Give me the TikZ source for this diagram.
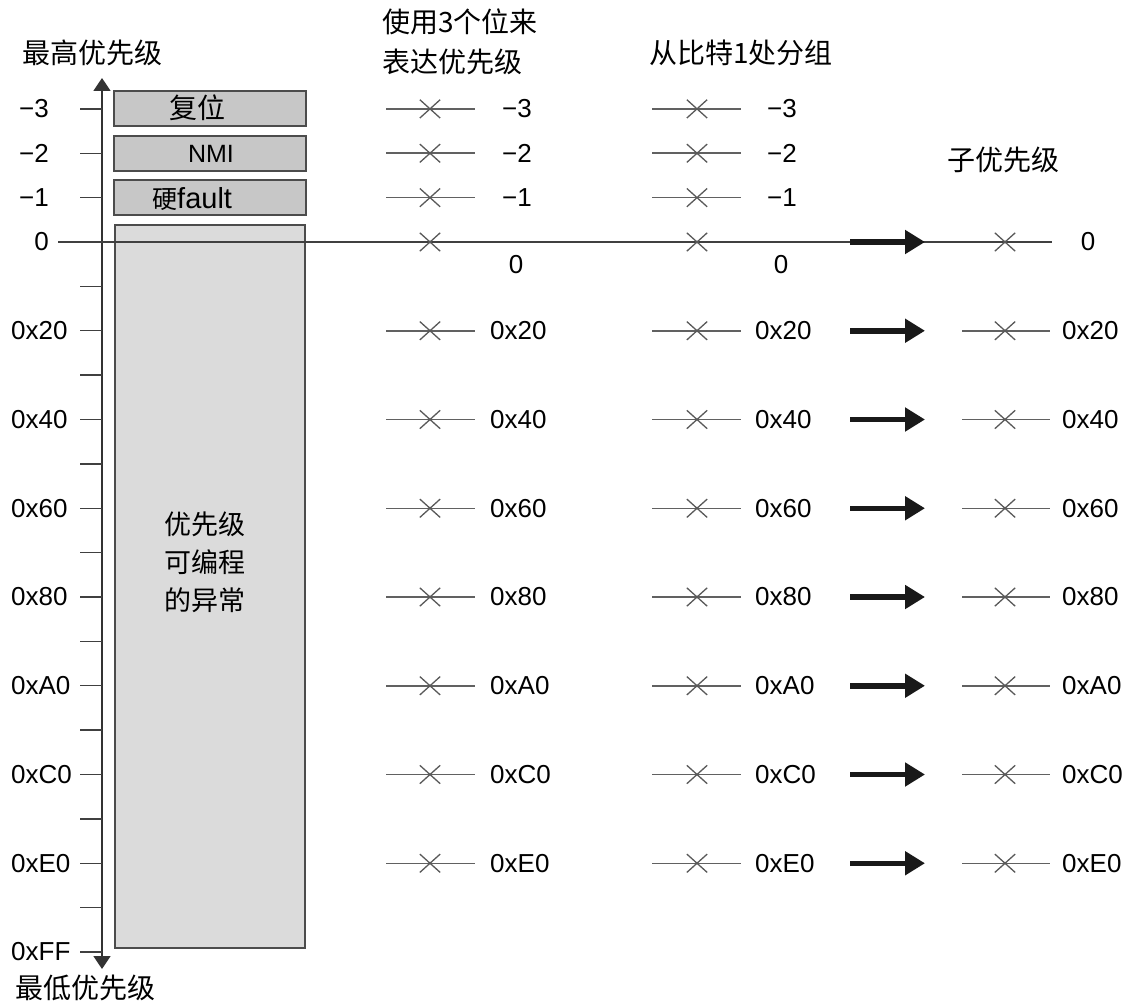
\documentclass[tikz,border=0pt]{standalone}
\usepackage{fontspec}
\setmainfont{Liberation Sans}
\newfontfamily\cjk{Noto Sans CJK SC}
\usetikzlibrary{arrows.meta,shapes.misc}
\begin{document}
\begin{tikzpicture}[x=1pt,y=-1pt,
  lab/.style={font=\fontsize{26}{28}\selectfont, inner sep=0pt},
  cj/.style={font=\fontsize{28}{40}\selectfont\cjk, inner sep=0pt, align=left},
  xmark/.style={cross out, draw=black!65, line width=1.3pt, minimum width=19pt, minimum height=17pt, inner sep=0pt},
  rowline/.style={draw=black!62, line width=1.5pt},
  prio/.style={draw=black!70, line width=1.5pt, fill=black!22, minimum width=192pt, minimum height=35pt, inner sep=0pt},
  big/.style={draw=black!70, line width=1.5pt, fill=black!14, minimum width=190pt, minimum height=723pt, inner sep=0pt},
  bigarrow/.style={line width=5.5pt, draw=black!90, -{Triangle[length=20pt,width=23pt]}},
  axis/.style={line width=1.8pt, draw=black!80, {Triangle[length=13pt,width=17pt]}-{Triangle[length=13pt,width=17pt]}},
  tick/.style={line width=1.3pt, draw=black!75},
  boxtxt/.style={inner sep=0pt}]
\useasboundingbox (0,0) rectangle (1123,1003);

% headers
\node[cj, anchor=west] (hi) at (22,53) {最高优先级};
\node[cj, anchor=west] (lo) at (15,988) {最低优先级};
\node[cj, anchor=west] (h1) at (382,42) {使用3个位来\\表达优先级};
\node[cj, anchor=west] (h2) at (649,53) {从比特1处分组};
\node[cj, anchor=west] (h3) at (947,160) {子优先级};

% priority boxes
\node[prio] (reset) at (210,108.5) {};
\node[prio] (nmi) at (210,153.5) {};
\node[prio] (hf) at (210,197.5) {};
\node[boxtxt, font=\fontsize{28}{30}\selectfont\cjk] (resett) at (197,108) {复位};
\node[boxtxt, font=\fontsize{25}{28}\selectfont] (nmit) at (211,154) {NMI};
\node[boxtxt, anchor=west] (hft) at (152,199) {\fontsize{25}{30}\selectfont\cjk 硬\fontsize{29}{30}\selectfont\rmfamily fault};
\node[big] (prog) at (210,586.5) {};
\node[cj, align=center, font=\fontsize{27}{38}\selectfont\cjk] (progtxt) at (205,562) {优先级\\可编程\\的异常};

% axis
\coordinate (top) at (102,78);
\coordinate (bot) at (102,969);
\draw[axis] (top) -- (bot);

% ticks
\foreach \k in {-3,...,16}{
  \pgfmathsetmacro{\yy}{242+44.375*\k}
  \coordinate (tL\k) at (80,\yy);
  \coordinate (tR\k) at (102,\yy);
  \ifnum\k=0\else\draw[tick] (tL\k) -- (tR\k);\fi
}

% left labels
\foreach \k/\t in {-3/−3,-2/−2,-1/−1,0/0}{
  \pgfmathsetmacro{\yy}{242+44.375*\k}
  \node[lab, anchor=east] (ll\k) at (49,\yy) {\t};
}
\foreach \k/\t in {2/0x20,4/0x40,6/0x60,8/0x80,10/0xA0,12/0xC0,14/0xE0,16/0xFF}{
  \pgfmathsetmacro{\yy}{242+44.375*\k}
  \node[lab, anchor=west] (ll\k) at (11,\yy) {\t};
}

% row 0 long line
\coordinate (zL) at (58,242);
\coordinate (zR) at (1052,242);
\draw[line width=1.5pt, draw=black!75] (zL) -- (zR);
\node[xmark] (x1z) at (430,242) {};
\node[xmark] (x2z) at (697,242) {};
\node[xmark] (x3z) at (1005,242) {};
\node[lab] (l1z) at (516,265) {0};
\node[lab] (l2z) at (781,265) {0};
\node[lab] (l3z) at (1088,242) {0};
\coordinate (azL) at (850,242);
\coordinate (azR) at (925,242);
\draw[bigarrow] (azL) -- (azR);

% negative rows (columns 1 and 2)
\foreach \k/\t in {-3/−3,-2/−2,-1/−1}{
  \pgfmathsetmacro{\yy}{242+44.375*\k}
  \coordinate (c1L\k) at (386,\yy); \coordinate (c1R\k) at (475,\yy);
  \coordinate (c2L\k) at (652,\yy); \coordinate (c2R\k) at (741,\yy);
  \draw[rowline] (c1L\k) -- (c1R\k);
  \draw[rowline] (c2L\k) -- (c2R\k);
  \node[xmark] (x1\k) at (430,\yy) {};
  \node[xmark] (x2\k) at (697,\yy) {};
  \node[lab, anchor=west] (l1\k) at (502,\yy) {\t};
  \node[lab, anchor=west] (l2\k) at (767,\yy) {\t};
}

% hex rows
\foreach \k/\t in {2/0x20,4/0x40,6/0x60,8/0x80,10/0xA0,12/0xC0,14/0xE0}{
  \pgfmathsetmacro{\yy}{242+44.375*\k}
  \coordinate (c1L\k) at (386,\yy); \coordinate (c1R\k) at (475,\yy);
  \coordinate (c2L\k) at (652,\yy); \coordinate (c2R\k) at (741,\yy);
  \coordinate (c3L\k) at (962,\yy); \coordinate (c3R\k) at (1050,\yy);
  \draw[rowline] (c1L\k) -- (c1R\k);
  \draw[rowline] (c2L\k) -- (c2R\k);
  \draw[rowline] (c3L\k) -- (c3R\k);
  \node[xmark] (x1\k) at (430,\yy) {};
  \node[xmark] (x2\k) at (697,\yy) {};
  \node[xmark] (x3\k) at (1005,\yy) {};
  \node[lab, anchor=west] (l1\k) at (490,\yy) {\t};
  \node[lab, anchor=west] (l2\k) at (755,\yy) {\t};
  \node[lab, anchor=west] (l3\k) at (1062,\yy) {\t};
  \coordinate (aL\k) at (850,\yy); \coordinate (aR\k) at (925,\yy);
  \draw[bigarrow] (aL\k) -- (aR\k);
}
\end{tikzpicture}
\end{document}
